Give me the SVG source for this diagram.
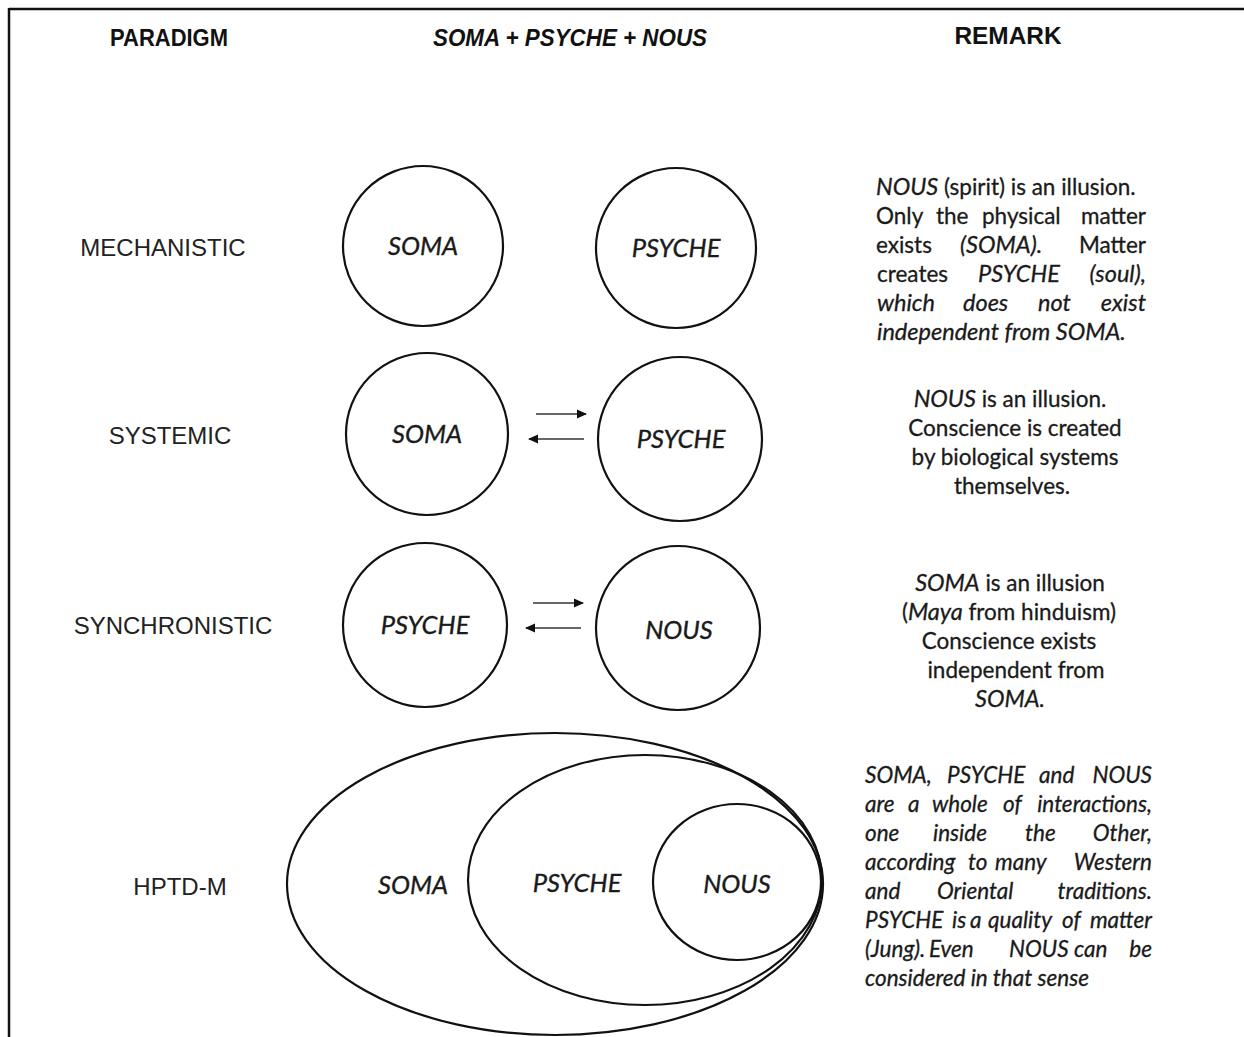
<svg xmlns="http://www.w3.org/2000/svg" width="1244" height="1037" viewBox="0 0 1244 1037">
<style>
.hdr{font-family:"Liberation Sans",Arial,sans-serif;font-weight:bold;font-size:23px;fill:#111;text-anchor:middle}
.lbl{font-family:"Liberation Sans",Arial,sans-serif;font-size:24px;fill:#222;text-anchor:middle}
.nd{fill:none;stroke:#111;stroke-width:2.2}
.nt{font-family:Lato,"Open Sans",sans-serif;font-style:italic;font-size:25.5px;fill:#1a1a1a;stroke:#1a1a1a;stroke-width:0.35;text-anchor:middle}
.rm text{font-family:Lato,"Open Sans",sans-serif;font-size:22.5px;fill:#1a1a1a;stroke:#1a1a1a;stroke-width:0.3}
.rm text.i,.rm .i{font-style:italic;font-size:23.5px}
#remark-4 text{font-style:italic;font-size:22.5px}
.c text{text-anchor:middle}
.e{text-anchor:end}
.arr{stroke:#333;stroke-width:1.6;fill:none}
</style>
<defs>
<marker id="ah" viewBox="0 0 10 10" refX="9" refY="5" markerWidth="11" markerHeight="10" markerUnits="userSpaceOnUse" orient="auto">
<path d="M0,0.5 L10,5 L0,9.5 z" fill="#111"/>
</marker>
</defs>
<rect width="1244" height="1037" fill="#fff"/>
<g id="frame">
<line x1="9" y1="9" x2="1244" y2="9" stroke="#111" stroke-width="2.5"/>
<line x1="9" y1="8" x2="9" y2="1037" stroke="#111" stroke-width="2.5"/>
</g>
<g id="headers">
<text class="hdr" x="169" y="46" textLength="118" lengthAdjust="spacingAndGlyphs">PARADIGM</text>
<text class="hdr" x="570" y="46" font-style="italic" textLength="274" lengthAdjust="spacingAndGlyphs">SOMA + PSYCHE + NOUS</text>
<text class="hdr" x="1008" y="44" textLength="107" lengthAdjust="spacingAndGlyphs">REMARK</text>
</g>
<g id="row-labels">
<text class="lbl" x="163" y="256">MECHANISTIC</text>
<text class="lbl" x="170" y="444">SYSTEMIC</text>
<text class="lbl" x="173" y="634">SYNCHRONISTIC</text>
<text class="lbl" x="180" y="895">HPTD-M</text>
</g>
<g id="mech-soma"><circle class="nd" cx="423" cy="246" r="80"/><text class="nt" x="423" y="255">SOMA</text></g>
<g id="mech-psyche"><circle class="nd" cx="676" cy="248" r="80"/><text class="nt" x="676" y="257">PSYCHE</text></g>
<g id="sys-soma"><circle class="nd" cx="427" cy="434" r="81"/><text class="nt" x="427" y="443">SOMA</text></g>
<g id="sys-psyche"><circle class="nd" cx="680" cy="439" r="82"/><text class="nt" x="681" y="448">PSYCHE</text></g>
<g id="syn-psyche"><circle class="nd" cx="425" cy="625" r="82"/><text class="nt" x="425" y="634">PSYCHE</text></g>
<g id="syn-nous"><circle class="nd" cx="678" cy="628" r="82"/><text class="nt" x="679" y="639">NOUS</text></g>
<g id="hptd-soma"><ellipse class="nd" cx="555" cy="884" rx="268" ry="151"/><text class="nt" x="413" y="894">SOMA</text></g>
<g id="hptd-psyche"><ellipse class="nd" cx="645" cy="880" rx="177" ry="125"/><text class="nt" x="577" y="892">PSYCHE</text></g>
<g id="hptd-nous"><ellipse class="nd" cx="737" cy="882" rx="84" ry="78"/><text class="nt" x="737" y="893">NOUS</text></g>
<g id="connectors">
<line class="arr" x1="536" y1="414" x2="586" y2="414" marker-end="url(#ah)"/>
<line class="arr" x1="584" y1="439" x2="529" y2="439" marker-end="url(#ah)"/>
<line class="arr" x1="533" y1="603" x2="583" y2="603" marker-end="url(#ah)"/>
<line class="arr" x1="581" y1="628" x2="526" y2="628" marker-end="url(#ah)"/>
</g>
<g id="remark-1" class="rm">
<text y="195"><tspan x="876" class="i">NOUS</tspan><tspan> (spirit) is an illusion.</tspan></text>
<text y="224"><tspan x="876">Only</tspan><tspan x="936">the</tspan><tspan x="982">physical</tspan></text>
<text y="224" x="1146" class="e">matter</text>
<text y="253"><tspan x="876">exists</tspan><tspan x="960" class="i">(SOMA).</tspan></text>
<text y="253" x="1146" class="e">Matter</text>
<text y="282"><tspan x="877">creates</tspan><tspan x="978" class="i">PSYCHE</tspan></text>
<text y="282" x="1146" class="e i">(soul),</text>
<text y="311" class="i"><tspan x="877">which</tspan><tspan x="963">does</tspan><tspan x="1038">not</tspan></text>
<text y="311" x="1146" class="e i">exist</text>
<text y="340" class="i" x="877">independent from SOMA.</text>
</g>
<g id="remark-2" class="rm c">
<text x="1010" y="407"><tspan class="i">NOUS</tspan> is an illusion.</text>
<text x="1015" y="436">Conscience is created</text>
<text x="1015" y="465">by biological systems</text>
<text x="1012" y="494">themselves.</text>
</g>
<g id="remark-3" class="rm c">
<text x="1010" y="591"><tspan class="i">SOMA</tspan> is an illusion</text>
<text x="1009" y="620">(<tspan class="i">Maya</tspan> from hinduism)</text>
<text x="1009" y="649">Conscience exists</text>
<text x="1016" y="678">independent from</text>
<text x="1010" y="707" class="i">SOMA.</text>
</g>
<g id="remark-4" class="rm">
<text y="783"><tspan x="865">SOMA,</tspan><tspan x="947">PSYCHE</tspan><tspan x="1039">and</tspan></text>
<text y="783" x="1152" class="e">NOUS</text>
<text y="812"><tspan x="865">are</tspan><tspan x="908">a</tspan><tspan x="932">whole</tspan><tspan x="1003">of</tspan></text>
<text y="812" x="1152" class="e">interactions,</text>
<text y="841"><tspan x="865">one</tspan><tspan x="933">inside</tspan><tspan x="1025">the</tspan></text>
<text y="841" x="1152" class="e">Other,</text>
<text y="870"><tspan x="865">according</tspan><tspan x="968">to</tspan><tspan x="995">many</tspan></text>
<text y="870" x="1152" class="e">Western</text>
<text y="899"><tspan x="865">and</tspan><tspan x="937">Oriental</tspan></text>
<text y="899" x="1152" class="e">traditions.</text>
<text y="928"><tspan x="865">PSYCHE</tspan><tspan x="952">is</tspan><tspan x="970">a</tspan><tspan x="988">quality</tspan><tspan x="1062">of</tspan></text>
<text y="928" x="1152" class="e">matter</text>
<text y="957"><tspan x="865">(Jung).</tspan><tspan x="929">Even</tspan><tspan x="1009">NOUS</tspan><tspan x="1074">can</tspan></text>
<text y="957" x="1152" class="e">be</text>
<text y="986" x="865">considered in that sense</text>
</g>
</svg>
